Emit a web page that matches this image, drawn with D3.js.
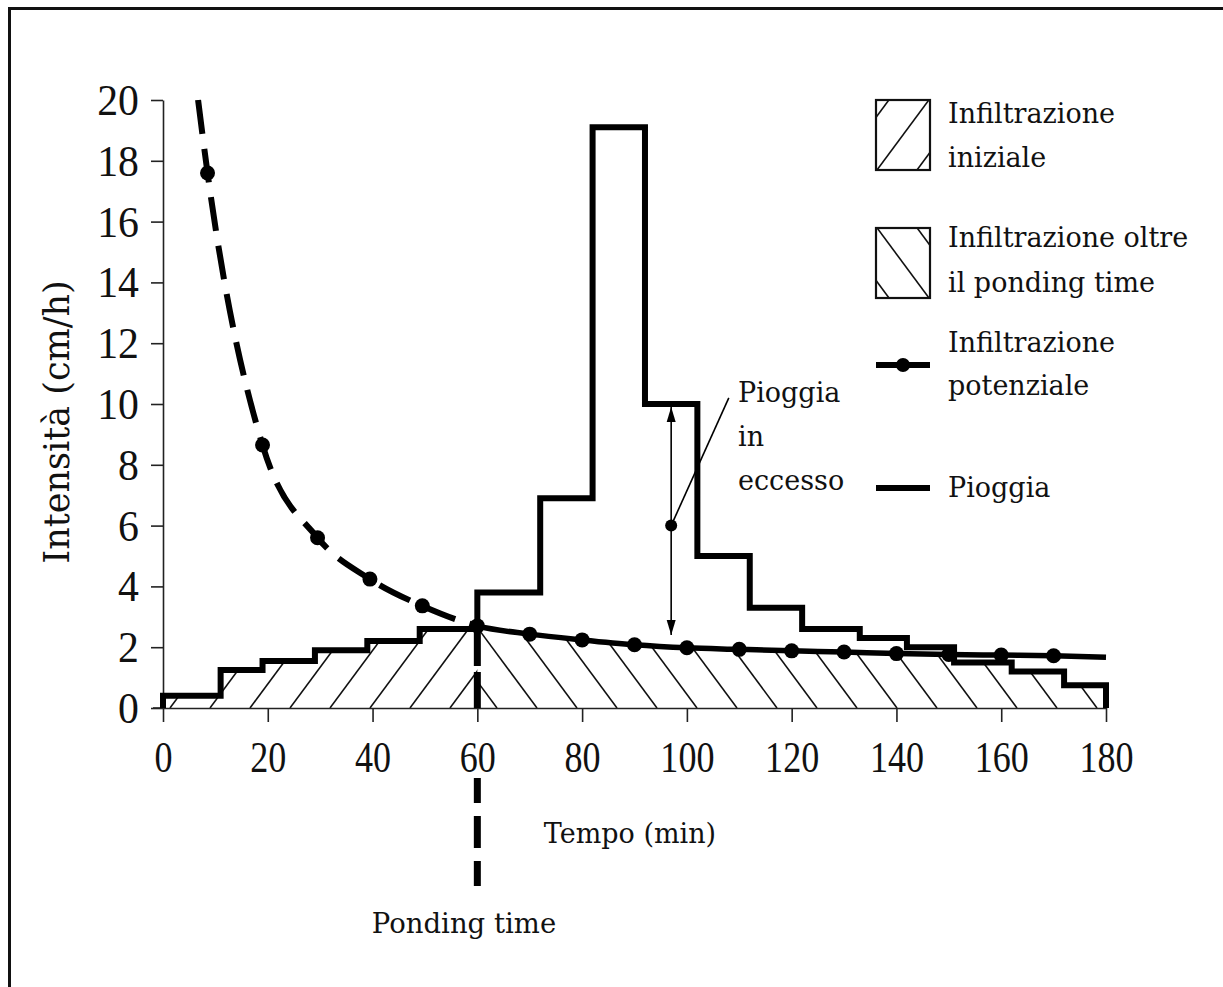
<!DOCTYPE html>
<html>
<head>
<meta charset="utf-8">
<script src="https://cdn.jsdelivr.net/npm/d3@7"></script>
<style>
  html, body { margin: 0; padding: 0; background: #fff; }
  svg { display: block; }
</style>
</head>
<body>
<svg id="chart" width="1223" height="987"></svg>
<script>
// ---------------- DATA ----------------
const xTicks = [0, 20, 40, 60, 80, 100, 120, 140, 160, 180];
const yTicks = [0, 2, 4, 6, 8, 10, 12, 14, 16, 18, 20];

// rainfall hyetograph: step edges (min) and intensity of each step (cm/h)
const rainEdges  = [0, 11, 19, 29, 39, 49, 60, 72, 82, 92, 102, 112, 122, 133, 142, 151, 162, 172, 180];
const rainValues = [0.4, 1.25, 1.55, 1.9, 2.2, 2.6, 3.8, 6.9, 19.1, 10.0, 5.0, 3.3, 2.6, 2.3, 2.0, 1.5, 1.2, 0.75];

// potential infiltration curve (min, cm/h)
const infilTimes  = [6.7, 8.5, 19, 29.5, 39.5, 49.5, 60, 70, 80, 90, 100, 110, 120, 130, 140, 150, 160, 170, 180];
const infilValues = [20, 17.6, 8.65, 5.6, 4.24, 3.36, 2.7, 2.43, 2.24, 2.08, 1.98, 1.93, 1.88, 1.84, 1.79, 1.76, 1.74, 1.72, 1.67];
const markerTimes  = infilTimes.slice(1, -1);
const markerValues = infilValues.slice(1, -1);

const pondingTime = 60;
const pondingLowerStart = -2.3;   // dashed line resumes below the tick label
const pondingBottom = -5.9;

// excess rainfall annotation
const excessTime = 97;
const excessTop = 9.9;
const excessBottom = 2.4;
const excessDot = 6.0;
const excessLabelEnd = [108, 10.2];

const xTitle = "Tempo (min)";
const yTitle = "Intensità (cm/h)";
const pondingLabel = "Ponding time";
const excessLabel = ["Pioggia", "in", "eccesso"];
const legendItems = [
  { type: "hatchFwd", lines: ["Infiltrazione", "iniziale"] },
  { type: "hatchBack", lines: ["Infiltrazione oltre", "il ponding time"] },
  { type: "dotLine", lines: ["Infiltrazione", "potenziale"] },
  { type: "line", lines: ["Pioggia"] }
];

// ---------------- CHART ----------------
const svg = d3.select("#chart");
const x = d3.scaleLinear().domain([0, 180]).range([163, 1106]);
const y = d3.scaleLinear().domain([0, 20]).range([708, 100]);

const SERIF = "'DejaVu Serif', serif";
const TIMES = "'Liberation Serif', 'Times New Roman', serif";

// outer frame
svg.append("rect").attr("x", 9.5).attr("y", 8.5).attr("width", 1400).attr("height", 1400)
  .attr("fill", "none").attr("stroke", "#111").attr("stroke-width", 3);

const defs = svg.append("defs");

// rain step points
const rainPts = [[0, 0]];
rainValues.forEach((v, i) => { rainPts.push([rainEdges[i], v]); rainPts.push([rainEdges[i + 1], v]); });
rainPts.push([180, 0]);

const infilPts = infilTimes.map((t, i) => [t, infilValues[i]]);

const lineGen = d3.line().x(d => x(d[0])).y(d => y(d[1]));
const curveGen = d3.line().x(d => x(d[0])).y(d => y(d[1])).curve(d3.curveMonotoneX);
const areaCurve = d3.area().x(d => x(d[0])).y0(y(0)).y1(d => y(d[1])).curve(d3.curveMonotoneX);

defs.append("clipPath").attr("id", "clipRain").append("path").attr("d", lineGen(rainPts) + "Z");
defs.append("clipPath").attr("id", "clipCurve").append("path").attr("d", areaCurve(infilPts));
defs.append("clipPath").attr("id", "clipLeft").append("rect")
  .attr("x", x(0)).attr("y", 0).attr("width", x(pondingTime) - x(0)).attr("height", y(0));
defs.append("clipPath").attr("id", "clipRight").append("rect")
  .attr("x", x(pondingTime)).attr("y", 0).attr("width", x(180) - x(pondingTime)).attr("height", y(0));
defs.append("clipPath").attr("id", "clipDash").append("rect")
  .attr("x", 0).attr("y", 0).attr("width", x(pondingTime)).attr("height", 987);
defs.append("clipPath").attr("id", "clipSolid").append("rect")
  .attr("x", x(pondingTime)).attr("y", 0).attr("width", 1223).attr("height", 987);

const SLOPE = 1.35, SPACING = 40;
function hatch(g, dir, phaseX, baseY, x0, x1, h) {
  const first = phaseX - Math.ceil((phaseX - x0 + h) / SPACING) * SPACING;
  for (let bx = first; bx <= x1 + h; bx += SPACING) {
    g.append("line")
      .attr("x1", bx).attr("y1", baseY)
      .attr("x2", dir > 0 ? bx + h / SLOPE : bx - h / SLOPE).attr("y2", baseY - h)
      .attr("stroke", "#111").attr("stroke-width", 1.6);
  }
}

// hatched areas
const leftG = svg.append("g").attr("clip-path", "url(#clipLeft)")
  .append("g").attr("clip-path", "url(#clipRain)");
hatch(leftG, 1, 170, y(0), x(0), x(pondingTime), 200);

const rightG = svg.append("g").attr("clip-path", "url(#clipRight)")
  .append("g").attr("clip-path", "url(#clipRain)")
  .append("g").attr("clip-path", "url(#clipCurve)");
hatch(rightG, -1, 497, y(0), x(pondingTime), x(180) + 200, 200);

// axes
const yAxis = svg.append("g").attr("transform", `translate(${x(0)},0)`)
  .call(d3.axisLeft(y).tickValues(yTicks).tickSize(12).tickSizeOuter(0).tickFormat(d3.format("d")));
const xAxis = svg.append("g").attr("transform", `translate(0,${y(0)})`)
  .call(d3.axisBottom(x).tickValues(xTicks).tickSize(14).tickSizeOuter(0).tickFormat(d3.format("d")));
[yAxis, xAxis].forEach(a => {
  a.select(".domain").attr("stroke", "#222").attr("stroke-width", 1.6);
  a.selectAll(".tick line").attr("stroke", "#222").attr("stroke-width", 1.6);
  a.selectAll(".tick text").attr("fill", "#111").attr("font-family", TIMES).attr("font-size", 44);
});
const SXY = 0.95, SX = 0.82;
yAxis.selectAll(".tick text").attr("transform", `scale(${SXY},1)`).attr("x", -24 / SXY).attr("dy", "0.33em");
xAxis.selectAll(".tick text").attr("transform", `scale(${SX},1)`).attr("y", 33).attr("dy", "0.71em");
svg.append("line").attr("x1", x(0) - 10).attr("x2", x(0)).attr("y1", y(0)).attr("y2", y(0))
  .attr("stroke", "#222").attr("stroke-width", 1.6);

// potential infiltration curve: dashed before ponding, solid after
svg.append("path").attr("d", curveGen(infilPts)).attr("clip-path", "url(#clipDash)")
  .attr("fill", "none").attr("stroke", "#000").attr("stroke-width", 6)
  .attr("stroke-dasharray", "34,15");
svg.append("path").attr("d", curveGen(infilPts)).attr("clip-path", "url(#clipSolid)")
  .attr("fill", "none").attr("stroke", "#000").attr("stroke-width", 5.5);
svg.append("g").selectAll("circle").data(markerTimes).join("circle")
  .attr("cx", d => x(d)).attr("cy", (d, i) => y(markerValues[i])).attr("r", 7.5).attr("fill", "#000");

// rainfall steps
svg.append("path").attr("d", lineGen(rainPts)).attr("fill", "none")
  .attr("stroke", "#000").attr("stroke-width", 6).attr("stroke-linejoin", "miter");

// ponding time line (upper part inside the plot, lower part below the tick labels)
const pondY0 = y(infilValues[infilTimes.indexOf(pondingTime)]);
svg.append("line").attr("x1", x(pondingTime)).attr("x2", x(pondingTime))
  .attr("y1", pondY0).attr("y2", y(0))
  .attr("stroke", "#000").attr("stroke-width", 7).attr("stroke-dasharray", "40,6");
svg.append("line").attr("x1", x(pondingTime)).attr("x2", x(pondingTime))
  .attr("y1", y(pondingLowerStart)).attr("y2", y(pondingBottom))
  .attr("stroke", "#000").attr("stroke-width", 7).attr("stroke-dasharray", "25,13,32,13");

// excess rainfall arrow
const ax = x(excessTime);
svg.append("line").attr("x1", ax).attr("x2", ax).attr("y1", y(excessTop)).attr("y2", y(excessBottom))
  .attr("stroke", "#000").attr("stroke-width", 1.6);
svg.append("path").attr("d", `M${ax},${y(excessTop)} l-4.5,15 l9,0 Z`).attr("fill", "#000");
svg.append("path").attr("d", `M${ax},${y(excessBottom)} l-4.5,-15 l9,0 Z`).attr("fill", "#000");
svg.append("circle").attr("cx", ax).attr("cy", y(excessDot)).attr("r", 6).attr("fill", "#000");
svg.append("line").attr("x1", ax).attr("y1", y(excessDot))
  .attr("x2", x(excessLabelEnd[0])).attr("y2", y(excessLabelEnd[1]))
  .attr("stroke", "#000").attr("stroke-width", 1.6);
excessLabel.forEach((t, i) => {
  svg.append("text").attr("x", 738).attr("y", 402 + i * 44).text(t)
    .attr("font-family", SERIF).attr("font-size", 27).attr("fill", "#111");
});

// titles
svg.append("text").attr("x", 630).attr("y", 843).attr("text-anchor", "middle").text(xTitle)
  .attr("font-family", SERIF).attr("font-size", 27).attr("fill", "#111");
svg.append("text").attr("transform", "translate(69,422) rotate(-90)").attr("text-anchor", "middle")
  .text(yTitle).attr("font-family", SERIF).attr("font-size", 35).attr("fill", "#111");
svg.append("text").attr("x", 464).attr("y", 933).attr("text-anchor", "middle").text(pondingLabel)
  .attr("font-family", SERIF).attr("font-size", 27.5).attr("fill", "#111");

// legend
const LX = 876, LW = 54, TX = 948;
const legendLayout = [
  { boxTop: 100, boxBottom: 170, baselines: [123, 167] },
  { boxTop: 228, boxBottom: 298, baselines: [247, 292] },
  { symY: 365, baselines: [352, 395] },
  { symY: 488, baselines: [497] }
];
legendItems.forEach((item, k) => {
  const L = legendLayout[k];
  const g = svg.append("g");
  if (item.type === "hatchFwd" || item.type === "hatchBack") {
    const id = "legClip" + k;
    defs.append("clipPath").attr("id", id).append("rect")
      .attr("x", LX).attr("y", L.boxTop).attr("width", LW).attr("height", L.boxBottom - L.boxTop);
    const hg = g.append("g").attr("clip-path", `url(#${id})`);
    if (item.type === "hatchFwd") hatch(hg, 1, LX + 1, L.boxBottom, LX - 100, LX + LW + 100, 120);
    else hatch(hg, -1, LX + LW - 1, L.boxBottom, LX - 100, LX + LW + 100, 120);
    g.append("rect").attr("x", LX).attr("y", L.boxTop).attr("width", LW).attr("height", L.boxBottom - L.boxTop)
      .attr("fill", "none").attr("stroke", "#111").attr("stroke-width", 2.2);
  } else {
    g.append("line").attr("x1", LX).attr("x2", LX + LW).attr("y1", L.symY).attr("y2", L.symY)
      .attr("stroke", "#000").attr("stroke-width", 6);
    if (item.type === "dotLine")
      g.append("circle").attr("cx", LX + 27).attr("cy", L.symY).attr("r", 7).attr("fill", "#000");
  }
  item.lines.forEach((t, j) => {
    g.append("text").attr("x", TX).attr("y", L.baselines[j]).text(t)
      .attr("font-family", SERIF).attr("font-size", 27).attr("fill", "#111");
  });
});
</script>
</body>
</html>
